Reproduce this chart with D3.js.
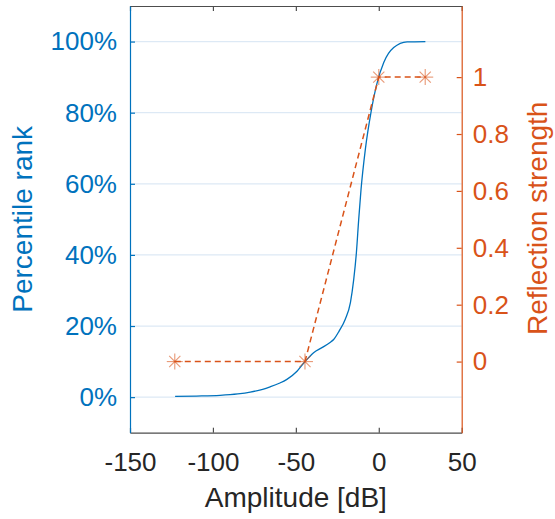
<!DOCTYPE html>
<html>
<head>
<meta charset="utf-8">
<script src="https://cdn.jsdelivr.net/npm/d3@7"></script>
<style>
  body { margin: 0; background: #fff; }
  svg text { font-family: "Liberation Sans", Arial, sans-serif; }
</style>
</head>
<body>
<div id="chart"></div>
<script>
// percentile rank curve
const ampDb = [-122.8, -110, -95.7, -85, -77.5, -70, -65.5, -60, -55.4, -49.3, -44.3, -39.3, -34, -29.6, -27.2, -24, -20.2, -17.1, -15.1, -13.5, -12.1, -10.7, -8.1, -4.7, -1, 3, 9, 17.1, 28.1];
const pctRank = [0.2, 0.3, 0.5, 0.9, 1.4, 2.2, 2.9, 3.9, 5.0, 7.3, 10.1, 12.5, 14, 15.3, 16.2, 18.5, 21.9, 26.6, 33.1, 40.6, 50, 58.4, 69.7, 80.1, 88.4, 94.1, 98.3, 99.9, 100];

// reflection strength mapping
const reflAmp = [-123, -44.5, 0, 28];
const reflVal = [0, 0, 1, 1];

const xTicks = [-150, -100, -50, 0, 50];
const leftTicks = [0, 20, 40, 60, 80, 100];
const rightTicks = [0, 0.2, 0.4, 0.6, 0.8, 1];

const blue = "#0072BD";
const orange = "#D95319";
const gray = "#4d4d4d";

const width = 555, height = 519;
const plot = {left: 130, right: 461.7, top: 6, bottom: 432.7};

const svg = d3.select("#chart").append("svg")
  .attr("width", width)
  .attr("height", height);

const x = d3.scaleLinear().domain([-150, 50]).range([plot.left, plot.right]);
const yL = d3.scaleLinear().domain([-10, 110]).range([plot.bottom, plot.top]);
const yR = d3.scaleLinear().domain([-0.25, 1.25]).range([plot.bottom, plot.top]);

// horizontal grid lines
svg.append("g")
  .selectAll("line")
  .data(leftTicks)
  .join("line")
  .attr("x1", plot.left)
  .attr("x2", plot.right)
  .attr("y1", d => yL(d))
  .attr("y2", d => yL(d))
  .attr("stroke", "#dde9f5")
  .attr("stroke-width", 1.2);

// percentile curve
const line1 = d3.line()
  .x((d, i) => x(ampDb[i]))
  .y(d => yL(d))
  .curve(d3.curveMonotoneX);

svg.append("path")
  .datum(pctRank)
  .attr("fill", "none")
  .attr("stroke", blue)
  .attr("stroke-width", 1.3)
  .attr("d", line1);

// reflection strength dashed line
const line2 = d3.line()
  .x((d, i) => x(reflAmp[i]))
  .y(d => yR(d));

svg.append("path")
  .datum(reflVal)
  .attr("fill", "none")
  .attr("stroke", orange)
  .attr("stroke-width", 1.5)
  .attr("stroke-dasharray", "6,4")
  .attr("d", line2);

// asterisk markers
const r = 8;
const stars = svg.append("g")
  .selectAll("g")
  .data(reflVal)
  .join("g")
  .attr("transform", (d, i) => `translate(${x(reflAmp[i])},${yR(d)})`)
  .attr("stroke", orange)
  .attr("stroke-opacity", 0.6)
  .attr("stroke-width", 1.1);
[[-r, 0, r, 0], [0, -r, 0, r], [-r * 0.7, -r * 0.7, r * 0.7, r * 0.7], [-r * 0.7, r * 0.7, r * 0.7, -r * 0.7]].forEach(s => {
  stars.append("line").attr("x1", s[0]).attr("y1", s[1]).attr("x2", s[2]).attr("y2", s[3]);
});

// bottom axis
const gx = svg.append("g")
  .attr("transform", `translate(0,${plot.bottom})`)
  .call(d3.axisBottom(x).tickValues(xTicks).tickSizeInner(-5).tickSizeOuter(0).tickPadding(20).tickFormat(d => String(d)));
gx.select(".domain").attr("stroke", gray).attr("stroke-width", 1.2);
gx.selectAll(".tick line").attr("stroke", gray).attr("stroke-width", 1.2);
gx.selectAll(".tick text").attr("fill", "#262626").style("font-size", "26px");

// top axis (ticks only)
const gt = svg.append("g")
  .attr("transform", `translate(0,${plot.top})`)
  .call(d3.axisTop(x).tickValues(xTicks).tickSizeInner(-5).tickSizeOuter(0).tickFormat(""));
gt.select(".domain").attr("stroke", gray).attr("stroke-width", 1.2);
gt.selectAll(".tick line").attr("stroke", gray).attr("stroke-width", 1.2);

// left axis
const gl = svg.append("g")
  .attr("transform", `translate(${plot.left},0)`)
  .call(d3.axisLeft(yL).tickValues(leftTicks).tickSizeInner(-5).tickSizeOuter(0).tickPadding(13).tickFormat(d => d + "%"));
gl.select(".domain").attr("stroke", blue).attr("stroke-width", 1.2);
gl.selectAll(".tick line").attr("stroke", blue).attr("stroke-width", 1.2);
gl.selectAll(".tick text").attr("fill", blue).style("font-size", "26px");

// right axis
const gr = svg.append("g")
  .attr("transform", `translate(${plot.right},0)`)
  .call(d3.axisRight(yR).tickValues(rightTicks).tickSizeInner(-5).tickSizeOuter(0).tickPadding(11).tickFormat(d => String(d)));
gr.select(".domain").attr("stroke", orange).attr("stroke-width", 1.2);
gr.selectAll(".tick line").attr("stroke", orange).attr("stroke-width", 1.2);
gr.selectAll(".tick text").attr("fill", orange).style("font-size", "26px");

// axis titles
svg.append("text")
  .attr("x", (plot.left + plot.right) / 2)
  .attr("y", 507)
  .attr("text-anchor", "middle")
  .attr("fill", "#262626")
  .style("font-size", "28px")
  .text("Amplitude [dB]");

svg.append("text")
  .attr("transform", `translate(32,${(plot.top + plot.bottom) / 2}) rotate(-90)`)
  .attr("text-anchor", "middle")
  .attr("fill", blue)
  .style("font-size", "28px")
  .text("Percentile rank");

svg.append("text")
  .attr("transform", `translate(547,${(plot.top + plot.bottom) / 2 - 1}) rotate(-90)`)
  .attr("text-anchor", "middle")
  .attr("fill", orange)
  .style("font-size", "28px")
  .text("Reflection strength");
</script>
</body>
</html>
